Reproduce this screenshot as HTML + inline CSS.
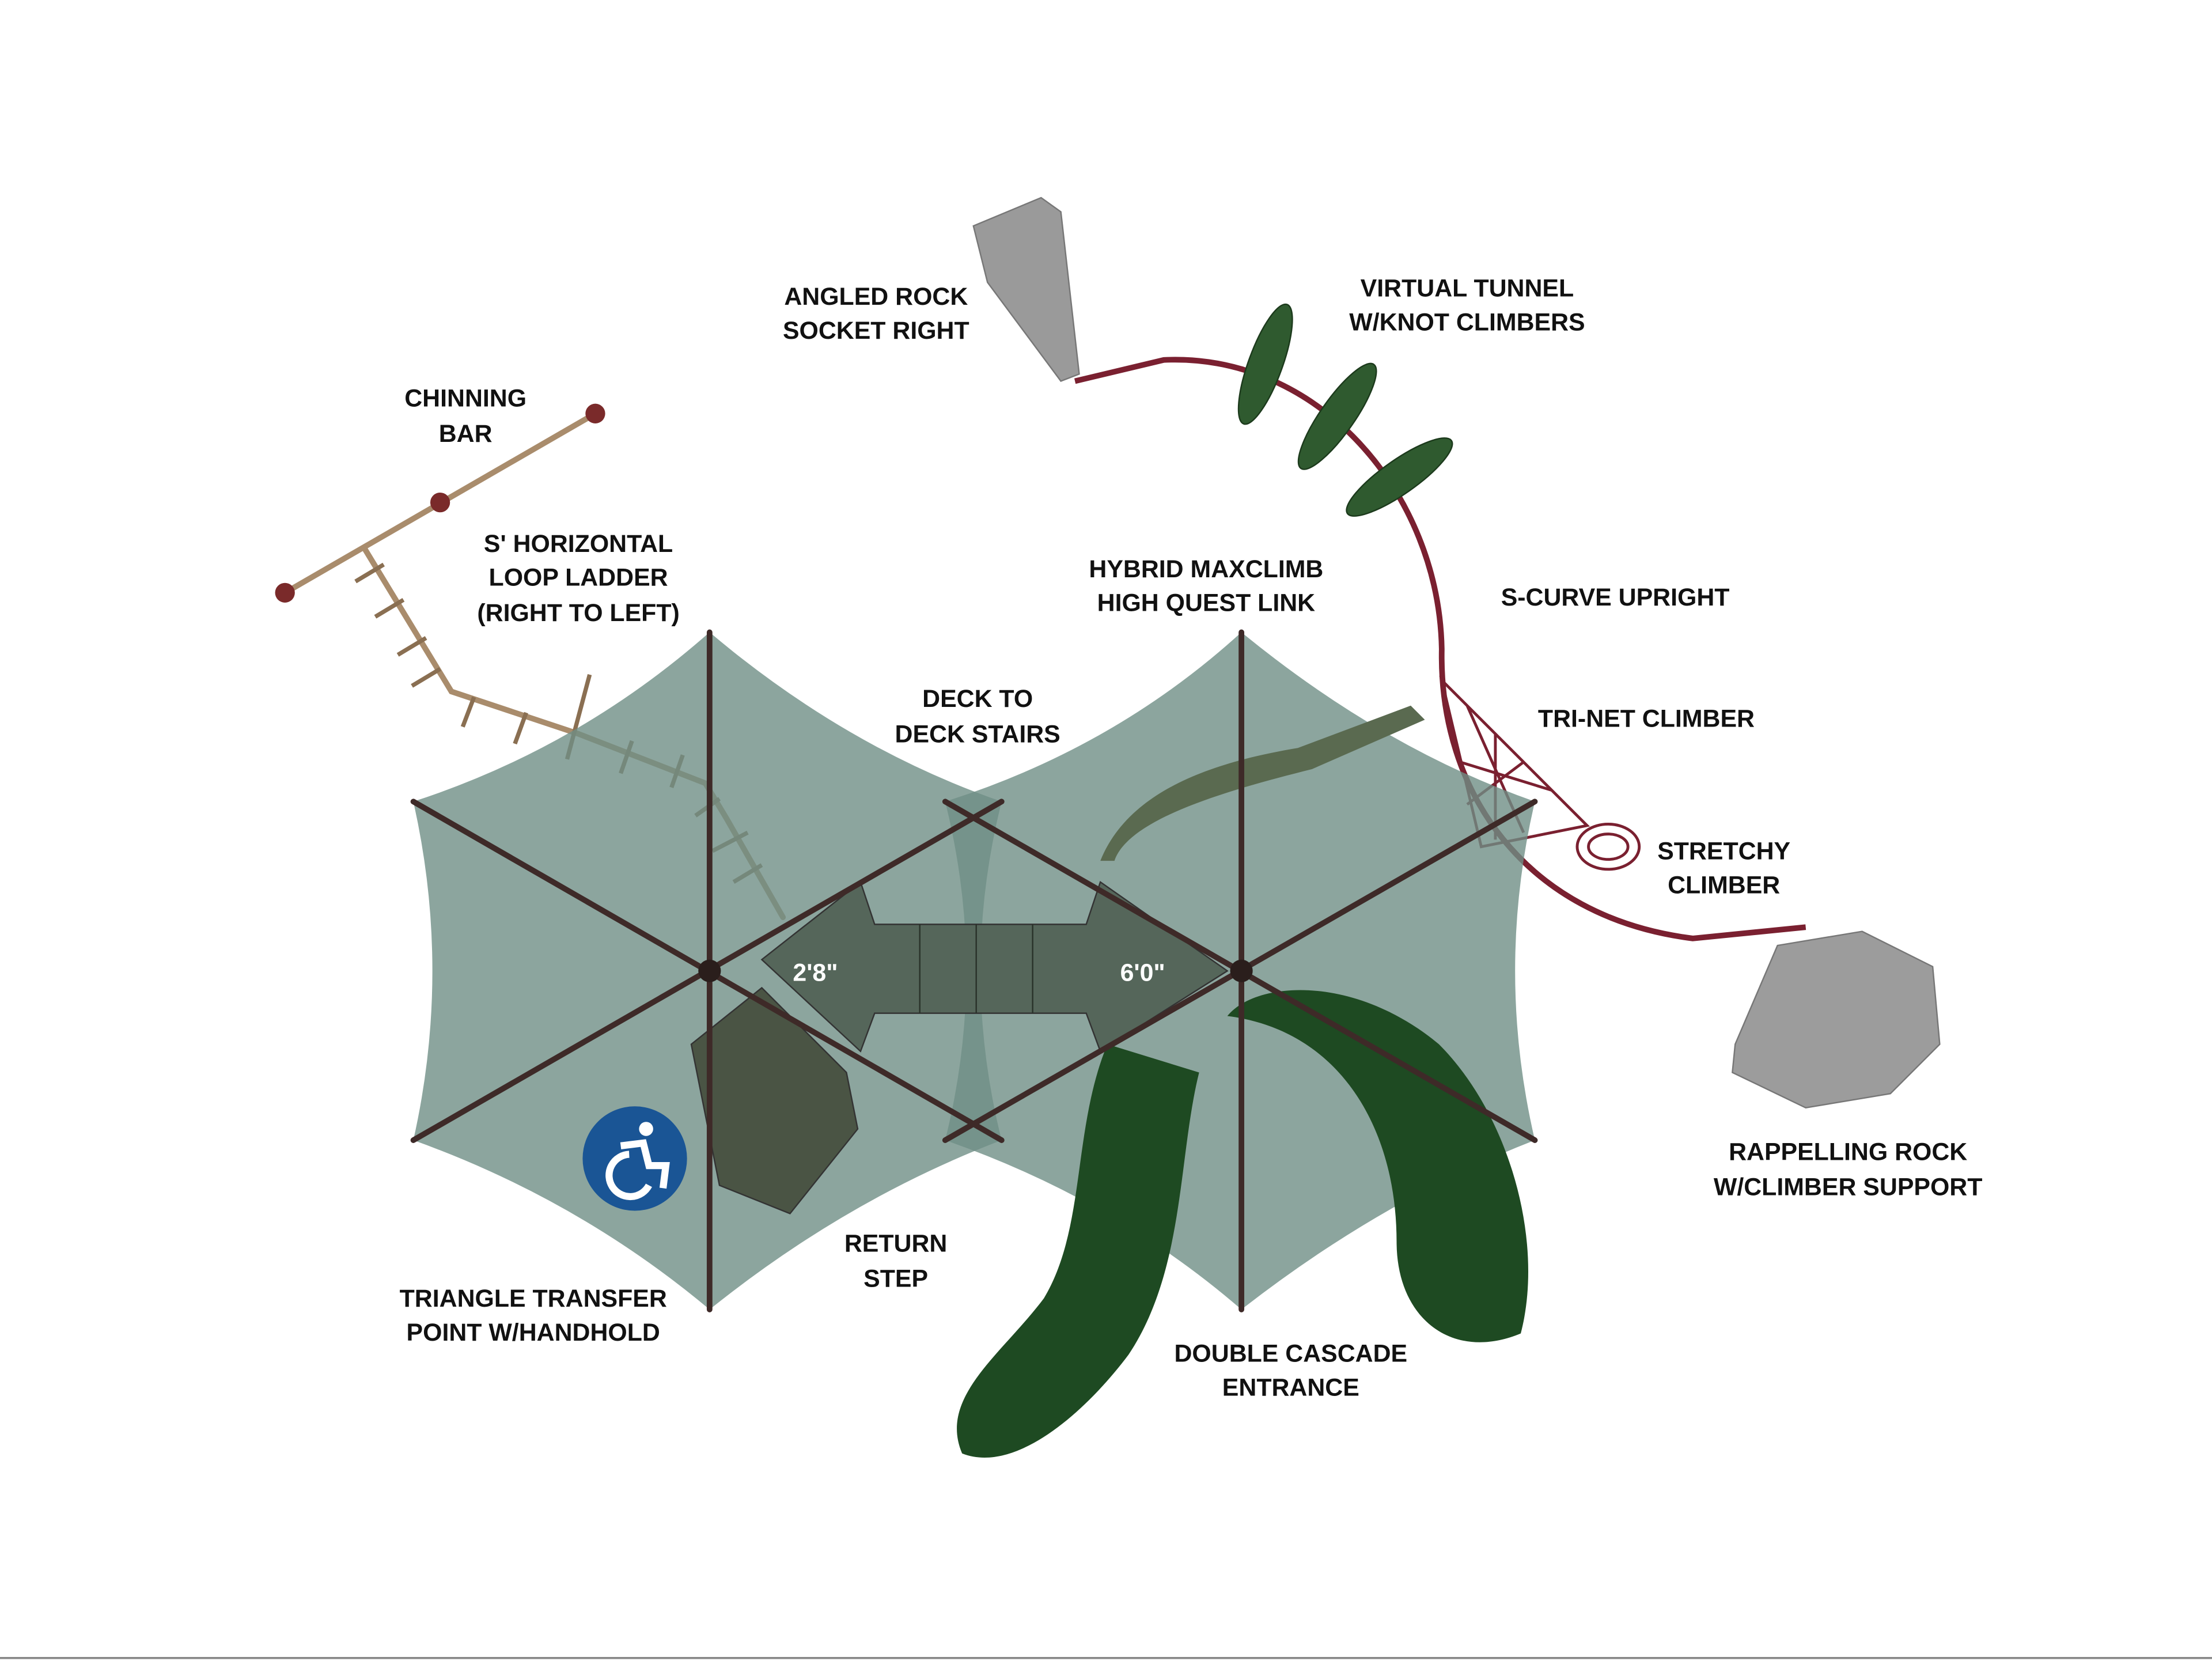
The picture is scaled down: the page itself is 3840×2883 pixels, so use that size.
<!DOCTYPE html>
<html><head><meta charset="utf-8"><style>
html,body{margin:0;padding:0;background:#fff;}
svg{display:block;}
text{font-family:"Liberation Sans",sans-serif;font-weight:bold;font-size:17.5px;fill:#111;text-anchor:middle;}
</style></head><body>
<svg width="3840" height="2883" viewBox="0 0 1568 1177" xmlns="http://www.w3.org/2000/svg">
<rect width="1568" height="1177" fill="#fff"/>
<g stroke="#a98c6c" stroke-width="4" fill="none" stroke-linecap="round">
<path d="M202,420 L422,293"/>
<path d="M258,388 L320,490 L410,520 L500,555 L515,580 L555,650"/>
</g>
<g stroke="#8a6f52" stroke-width="3">
<path d="M252,412 L272,400 M266,437 L286,425 M282,464 L302,452 M292,486 L312,474 M328,515 L336,494 M365,527 L373,505 M402,538 L418,478 M440,548 L448,525 M476,558 L484,535 M493,578 L510,566 M505,603 L530,590 M520,625 L540,613"/>
</g>
<circle cx="202" cy="420" r="7" fill="#7a2a2a"/><circle cx="312" cy="356" r="7" fill="#7a2a2a"/><circle cx="422" cy="293" r="7" fill="#7a2a2a"/>
<path d="M690,160 L738,140 L752,150 L765,265 L752,270 L700,200 Z" fill="#9a9a9a" stroke="#777"/>
<path d="M762,270 L825,255 C935,250 1020,350 1022,460 C1020,560 1080,650 1200,665 L1280,657" stroke="#7a2030" stroke-width="4" fill="none"/>
<g fill="#2f5a2f" stroke="#1c3a1c">
<ellipse cx="897" cy="258" rx="12" ry="45" transform="rotate(20 897 258)"/>
<ellipse cx="948" cy="295" rx="12" ry="45" transform="rotate(35 948 295)"/>
<ellipse cx="992" cy="338" rx="12" ry="45" transform="rotate(55 992 338)"/>
</g>
<g stroke="#7a2030" stroke-width="2" fill="none">
<path d="M1022,482 L1125,585 L1050,600 Z M1040,500 L1080,590 M1060,520 L1060,595 M1080,540 L1040,570 M1100,560 L1035,540"/>
<ellipse cx="1140" cy="600" rx="22" ry="16"/><ellipse cx="1140" cy="600" rx="14" ry="9"/>
</g>
<path d="M1230,740 L1260,670 L1320,660 L1370,685 L1375,740 L1340,775 L1280,785 L1228,760 Z" fill="#9c9c9c" stroke="#777"/>
<g fill="#6f8f86" fill-opacity="0.8">
<path d="M503,448 Q600,530 710,568 Q680,688 710,808 Q600,850 503,928 Q410,850 293,808 Q320,688 293,568 Q410,530 503,448 Z"/>
<path d="M880,448 Q980,530 1088,568 Q1060,688 1088,808 Q980,850 880,928 Q790,850 670,808 Q700,688 670,568 Q790,530 880,448 Z"/>
</g>
<g stroke="#333" stroke-width="1">
<path d="M540,680 L610,625 L620,655 L770,655 L780,625 L870,688 L780,745 L770,718 L620,718 L610,745 Z" fill="#55665a"/>
<path d="M652,655 V718 M692,655 V718 M732,655 V718" stroke="#2a332a"/>
<path d="M490,740 L540,700 L600,760 L608,800 L560,860 L510,840 Z" fill="#4a5444"/>
</g>
<g fill="#1e4a22">
<path d="M785,740 C760,800 770,870 740,920 C710,960 665,990 682,1030 C720,1045 770,1000 800,960 C840,900 835,820 850,760 Z"/>
<path d="M870,720 C950,730 990,800 990,880 C990,935 1030,965 1078,945 C1095,880 1070,790 1020,740 C960,690 890,695 870,720 Z"/>
<path d="M780,610 C800,560 860,540 920,530 L1000,500 L1010,510 L930,545 C870,560 800,580 790,610 Z" fill="#5a6a50"/>
</g>
<g stroke="#3e2a28" stroke-width="4" stroke-linecap="round">
<path d="M503,448 L503,928 M293,568 L710,808 M293,808 L710,568"/>
<path d="M880,448 L880,928 M670,568 L1088,808 M670,808 L1088,568"/>
</g>
<circle cx="503" cy="688" r="8" fill="#2a1e1c"/><circle cx="880" cy="688" r="8" fill="#2a1e1c"/>
<text x="578" y="695" style="fill:#fff">2'8"</text>
<text x="810" y="695" style="fill:#fff">6'0"</text>
<circle cx="450" cy="821" r="37" fill="#1a5595"/>
<circle cx="458" cy="800" r="5" fill="#fff"/>
<path d="M440,812 L456,810 L460,826 L472,826 L470,842 M446,818 A15,15 0 1 0 460,840" stroke="#fff" stroke-width="5" fill="none"/>
<text x="621" y="216">ANGLED ROCK</text><text x="621" y="240">SOCKET RIGHT</text>
<text x="1040" y="210">VIRTUAL TUNNEL</text><text x="1040" y="234">W/KNOT CLIMBERS</text>
<text x="330" y="288">CHINNING</text><text x="330" y="313">BAR</text>
<text x="410" y="391">S' HORIZONTAL</text><text x="410" y="415">LOOP LADDER</text><text x="410" y="440">(RIGHT TO LEFT)</text>
<text x="855" y="409">HYBRID MAXCLIMB</text><text x="855" y="433">HIGH QUEST LINK</text>
<text x="1145" y="429">S-CURVE UPRIGHT</text>
<text x="693" y="501">DECK TO</text><text x="693" y="526">DECK STAIRS</text>
<text x="1167" y="515">TRI-NET CLIMBER</text>
<text x="1222" y="609">STRETCHY</text><text x="1222" y="633">CLIMBER</text>
<text x="1310" y="822">RAPPELLING ROCK</text><text x="1310" y="847">W/CLIMBER SUPPORT</text>
<text x="635" y="887">RETURN</text><text x="635" y="912">STEP</text>
<text x="378" y="926">TRIANGLE TRANSFER</text><text x="378" y="950">POINT W/HANDHOLD</text>
<text x="915" y="965">DOUBLE CASCADE</text><text x="915" y="989">ENTRANCE</text>
<line x1="0" y1="1175" x2="1568" y2="1175" stroke="#888" stroke-width="1.5"/>
</svg>
</body></html>
